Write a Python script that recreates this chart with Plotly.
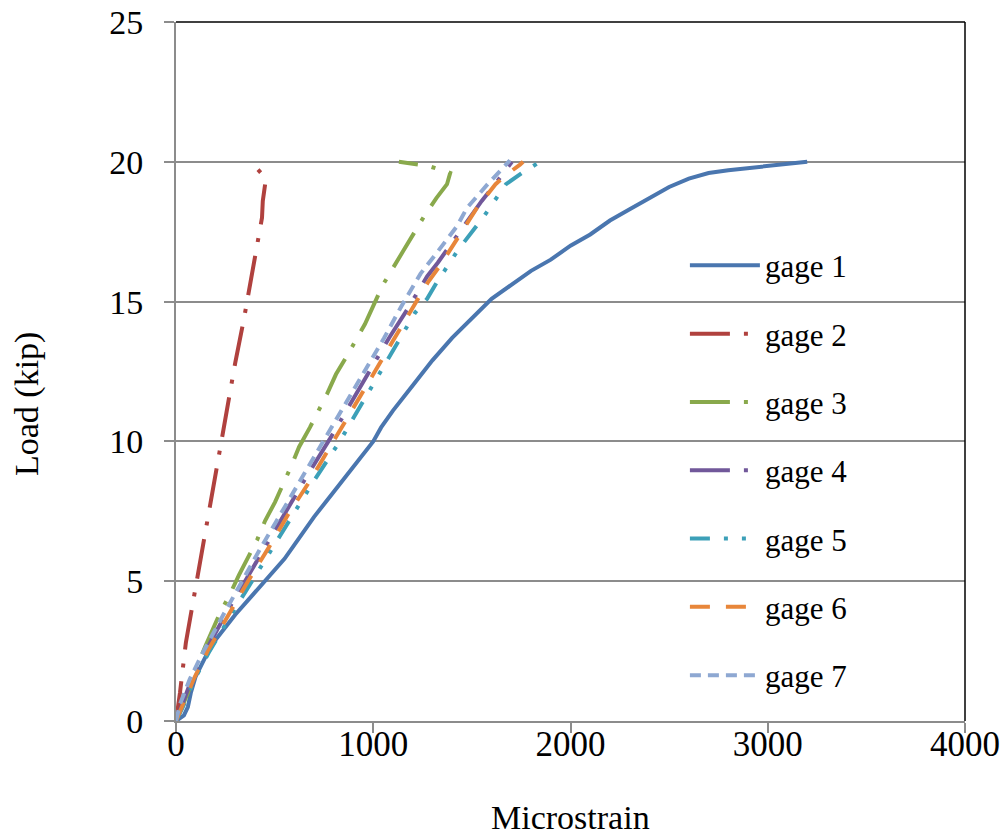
import plotly.graph_objects as go

# ---- data ----
g1_x = [0, 40, 60, 75, 100, 150, 200, 300, 400, 450, 550, 600, 700, 800, 900, 1000, 1040, 1100, 1200, 1300, 1400, 1500, 1600, 1700, 1800, 1900, 2000, 2100, 2200, 2300, 2400, 2500, 2600, 2700, 2800, 3000, 3200]
g1_y = [0, 0.2, 0.5, 1.0, 1.6, 2.3, 2.9, 3.8, 4.6, 5.0, 5.8, 6.3, 7.3, 8.2, 9.1, 10.0, 10.5, 11.1, 12.0, 12.9, 13.7, 14.4, 15.1, 15.6, 16.1, 16.5, 17.0, 17.4, 17.9, 18.3, 18.7, 19.1, 19.4, 19.6, 19.7, 19.85, 20.0]

g2_x = [0, 20, 50, 100, 150, 190, 230, 250, 300, 345, 380, 420, 436, 440, 448, 456, 380]
g2_y = [0, 1.0, 2.8, 4.8, 6.9, 8.6, 10.2, 10.9, 12.8, 14.4, 15.8, 17.2, 18.0, 18.6, 19.0, 19.4, 20.0]

g3_x = [0, 60, 106, 147, 223, 274, 319, 411, 451, 502, 583, 624, 679, 766, 811, 862, 958, 1004, 1049, 1151, 1207, 1262, 1320, 1374, 1390, 1280, 1130]
g3_y = [0, 1.0, 1.93, 2.65, 3.86, 4.54, 5.22, 6.47, 7.15, 7.83, 9.1, 9.8, 10.5, 11.7, 12.4, 13.0, 14.2, 14.9, 15.6, 16.8, 17.45, 18.1, 18.7, 19.2, 19.6, 19.85, 20.0]

g4_x = [0, 30, 80, 150, 250, 350, 450, 550, 650, 781, 880, 980, 1080, 1171, 1273, 1328, 1450, 1550, 1650, 1703]
g4_y = [0, 0.6, 1.5, 2.5, 3.8, 5.0, 6.2, 7.4, 8.6, 10.1, 11.3, 12.5, 13.7, 14.7, 15.9, 16.4, 17.6, 18.6, 19.5, 20.0]

g5_x = [0, 35, 95, 170, 280, 385, 490, 590, 700, 830, 930, 1030, 1130, 1212, 1273, 1323, 1389, 1430, 1556, 1617, 1673, 1754, 1835, 1845]
g5_y = [0, 0.5, 1.5, 2.5, 3.8, 5.0, 6.2, 7.4, 8.6, 10.0, 11.2, 12.4, 13.6, 14.6, 15.1, 15.7, 16.4, 16.85, 18.0, 18.6, 19.2, 19.6, 19.95, 20.0]

g6_x = [0, 30, 90, 160, 265, 365, 470, 570, 680, 800, 900, 1000, 1100, 1200, 1278, 1340, 1430, 1530, 1620, 1668, 1744, 1760]
g6_y = [0, 0.5, 1.5, 2.5, 3.8, 5.0, 6.2, 7.4, 8.6, 10.0, 11.2, 12.4, 13.6, 14.8, 15.7, 16.3, 17.3, 18.4, 19.2, 19.5, 19.9, 20.0]

g7_x = [0, 20, 70, 140, 240, 334, 430, 530, 630, 755, 855, 955, 1055, 1140, 1240, 1328, 1425, 1475, 1580, 1693]
g7_y = [0, 0.6, 1.5, 2.5, 3.8, 5.0, 6.2, 7.4, 8.6, 10.1, 11.3, 12.5, 13.7, 14.8, 16.0, 16.8, 17.7, 18.35, 19.2, 20.05]

names = ["gage 1", "gage 2", "gage 3", "gage 4", "gage 5", "gage 6", "gage 7"]
xs = [g1_x, g2_x, g3_x, g4_x, g5_x, g6_x, g7_x]
ys = [g1_y, g2_y, g3_y, g4_y, g5_y, g6_y, g7_y]

x_ticks = [0, 1000, 2000, 3000, 4000]
y_ticks = [0, 5, 10, 15, 20, 25]

x_title = "Microstrain"
y_title = "Load (kip)"

colors = ["#4A76AF", "#B0413E", "#89A94C", "#71589A", "#3CA0B8", "#E8863A", "#8EA8D2"]
dashes = ["solid", "40px,14px,4px,14px", "40px,14px,4px,14px", "40px,14px,4px,14px",
          "20px,14px,4px,14px,4px,14px", "20px,16px", "11px,7px"]

FONT = "Liberation Serif, Times New Roman, serif"
GRAY = "#8C8C8C"

fig = go.Figure()
for i in range(7):
    fig.add_trace(go.Scatter(
        x=xs[i], y=ys[i], name=names[i], mode="lines",
        legendgroup=names[i],
        line=dict(color=colors[i], width=4, dash=dashes[i]),
    ))

fig.update_layout(
    width=1008, height=839,
    margin=dict(l=176, r=43, t=22, b=118, autoexpand=False),
    paper_bgcolor="white", plot_bgcolor="white",
    font=dict(family=FONT, size=34, color="black"),
    showlegend=True,
    legend=dict(
        x=0.645, y=0.69, xanchor="left", yanchor="top",
        bgcolor="rgba(0,0,0,0)", font=dict(family=FONT, size=31, color="black"),
        tracegroupgap=25, itemwidth=70,
    ),
    xaxis=dict(
        range=[0, 4000], tickvals=x_ticks, ticktext=[str(v) for v in x_ticks],
        showgrid=False, zeroline=False, automargin=False,
        showline=True, linecolor=GRAY, linewidth=2,
        ticks="outside", ticklen=10, tickwidth=2, tickcolor=GRAY,
        tickfont=dict(family=FONT, size=35), ticklabelstandoff=-19,
        ticklabeloverflow="allow",
    ),
    yaxis=dict(
        range=[0, 25], tickvals=y_ticks, ticktext=[str(v) for v in y_ticks],
        showgrid=True, gridcolor=GRAY, gridwidth=1.5,
        zeroline=False, automargin=False,
        showline=True, linecolor=GRAY, linewidth=2,
        ticks="outside", ticklen=10, tickwidth=2, tickcolor=GRAY,
        tickfont=dict(family=FONT, size=34), ticklabelstandoff=14,
        ticklabeloverflow="allow",
    ),
    annotations=[
        dict(text=x_title, xref="paper", yref="paper", x=0.5, y=-0.168,
             xanchor="center", yanchor="bottom", showarrow=False,
             font=dict(family=FONT, size=34, color="black")),
        dict(text=y_title, xref="paper", yref="paper", x=-0.188, y=0.453,
             xanchor="center", yanchor="middle", showarrow=False, textangle=-90,
             font=dict(family=FONT, size=34, color="black")),
    ],
)

# top and right black border of plot area
fig.add_shape(type="line", xref="paper", yref="paper", x0=0, x1=1, y0=1, y1=1,
              line=dict(color="black", width=1.5), layer="above")
fig.add_shape(type="line", xref="paper", yref="paper", x0=1, x1=1, y0=0, y1=1,
              line=dict(color="black", width=1.5), layer="above")

fig.write_html(
    "out.html",
    config={"displayModeBar": False},
    post_script="document.body.style.margin='0';document.body.style.overflow='hidden';",
)
